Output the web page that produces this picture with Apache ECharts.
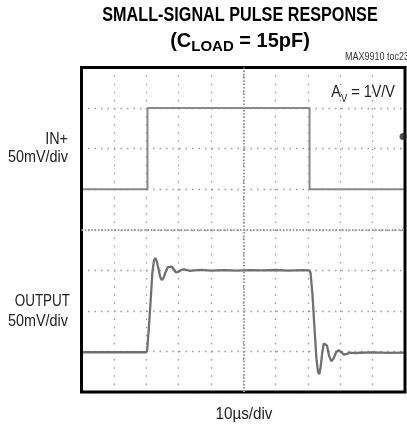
<!DOCTYPE html>
<html><head><meta charset="utf-8">
<script src="https://cdn.jsdelivr.net/npm/echarts@6/dist/echarts.min.js"></script>
<style>html,body{margin:0;padding:0;background:#fff}#c{width:407px;height:430px}</style>
</head><body><div id="c"></div>
<script>
// Time in microseconds (10 us/div), amplitude in mV (50 mV/div)
const inTime = [0, 20.4, 20.4, 70.5, 70.5, 100];
const inMv   = [50, 50, 150, 150, 50, 50];

const outTime = [0, 10, 20.0, 20.3, 20.8, 21.4, 21.9, 22.4, 22.8, 23.2, 23.8, 24.3, 24.8, 25.4, 26.0, 26.7, 27.3, 27.9, 28.6, 29.2, 29.9, 30.7, 31.4, 32.3, 33.5, 35, 37, 40, 44, 48, 52, 56, 60, 64, 68, 70.4,
  70.8, 71.4, 72.0, 72.6, 73.1, 73.5, 73.9, 74.4, 74.9, 75.4, 75.9, 76.5, 77.2, 77.9, 78.7, 79.5, 80.3, 81.1, 82.0, 83.0, 84.5, 86, 90, 95, 100];
const outMv = [-151, -151, -151, -148, -122, -86, -53, -38, -35, -38, -48, -58, -62, -59, -52, -46, -44, -45.5, -49, -52.5, -52, -50, -48.8, -49.3, -50.6, -50, -49.5, -50.3, -49.7, -50.4, -49.8, -50.2, -49.6, -50.3, -49.8, -50,
  -53, -80, -120, -158, -175, -178, -170, -152, -140, -138, -143, -155, -162, -159, -151, -148.5, -151, -154, -153, -151.5, -152, -151.6, -151.2, -151.7, -151.4];

const trigTime = [99.4];
const trigMv = [115];

const xTickStep = 10;   // 10 us/div
const yTickStep = 50;   // 50 mV/div

const chart = echarts.init(document.getElementById('c'), null, {renderer: 'canvas'});
const pair = (a, b) => a.map((v, i) => [v, b[i]]);
const ff = "'Liberation Sans', Arial, sans-serif";

chart.setOption({
  animation: false,
  backgroundColor: '#fff',
  grid: {left: 81.5, right: 2, top: 67.5, bottom: 38, show: true, borderColor: '#000', borderWidth: 3, z: 5},
  xAxis: {type: 'value', min: 0, max: 100, interval: xTickStep,
    axisLine: {show: false}, axisTick: {show: false}, axisLabel: {show: false},
    splitLine: {show: true, lineStyle: {color: '#999', width: 1.3, type: [1.5, 6.6]}}},
  yAxis: {type: 'value', min: -200, max: 200, interval: yTickStep,
    axisLine: {show: false}, axisTick: {show: false}, axisLabel: {show: false},
    splitLine: {show: true, lineStyle: {color: '#999', width: 1.3, type: [1.5, 5]}}},
  series: [
    {type: 'line', data: pair(inTime, inMv), symbol: 'none', z: 3,
      lineStyle: {color: '#8a8a8a', width: 2},
      markLine: {silent: true, symbol: 'none', label: {show: false},
        lineStyle: {color: '#999', width: 2, type: [1.5, 1.8]},
        data: [{xAxis: 50}, {yAxis: 0}]}},
    {type: 'line', data: pair(outTime, outMv), symbol: 'none', z: 4,
      lineStyle: {color: '#707070', width: 2.3}},
    {type: 'scatter', data: pair(trigTime, trigMv), symbol: 'circle', symbolSize: 7, z: 6,
      itemStyle: {color: '#222'}, clip: false}
  ],
  graphic: [
    {type: 'text', x: 240, y: 5, scaleX: 0.81, style: {text: 'SMALL-SIGNAL PULSE RESPONSE', align: 'center', font: "bold 20px " + ff, fill: '#000'}},
    {type: 'text', x: 240, y: 31, style: {
      text: '{a|(C}{s|LOAD}{a| = 15pF)}', align: 'center', fill: '#000',
      rich: {a: {font: "bold 20px " + ff, fill: '#000', verticalAlign: 'bottom'},
             s: {font: "bold 15px " + ff, fill: '#000', verticalAlign: 'bottom', padding: [0, 0, -3, 0]}}}},
    {type: 'text', x: 409, y: 52, scaleX: 0.9, style: {text: 'MAX9910 toc23', align: 'right', font: "10px " + ff, fill: '#333'}},
    {type: 'text', x: 395, y: 84, scaleX: 0.85, style: {
      text: '{a|A}{s|V}{a| = 1V/V}', align: 'right', fill: '#222',
      rich: {a: {font: "17px " + ff, fill: '#222', verticalAlign: 'bottom'},
             s: {font: "11px " + ff, fill: '#222', verticalAlign: 'bottom', padding: [0, 0, -3, 0]}}}},
    {type: 'text', x: 68, y: 132, scaleX: 0.9, style: {text: 'IN+', align: 'right', font: "16px " + ff, fill: '#222'}},
    {type: 'text', x: 68, y: 150, scaleX: 0.9, style: {text: '50mV/div', align: 'right', font: "16px " + ff, fill: '#222'}},
    {type: 'text', x: 70, y: 294, scaleX: 0.84, style: {text: 'OUTPUT', align: 'right', font: "16px " + ff, fill: '#222'}},
    {type: 'text', x: 68, y: 314, scaleX: 0.9, style: {text: '50mV/div', align: 'right', font: "16px " + ff, fill: '#222'}},
    {type: 'text', x: 244, y: 407, scaleX: 0.95, style: {text: '10\u00b5s/div', align: 'center', font: "16px " + ff, fill: '#222'}}
  ]
});
</script></body></html>
